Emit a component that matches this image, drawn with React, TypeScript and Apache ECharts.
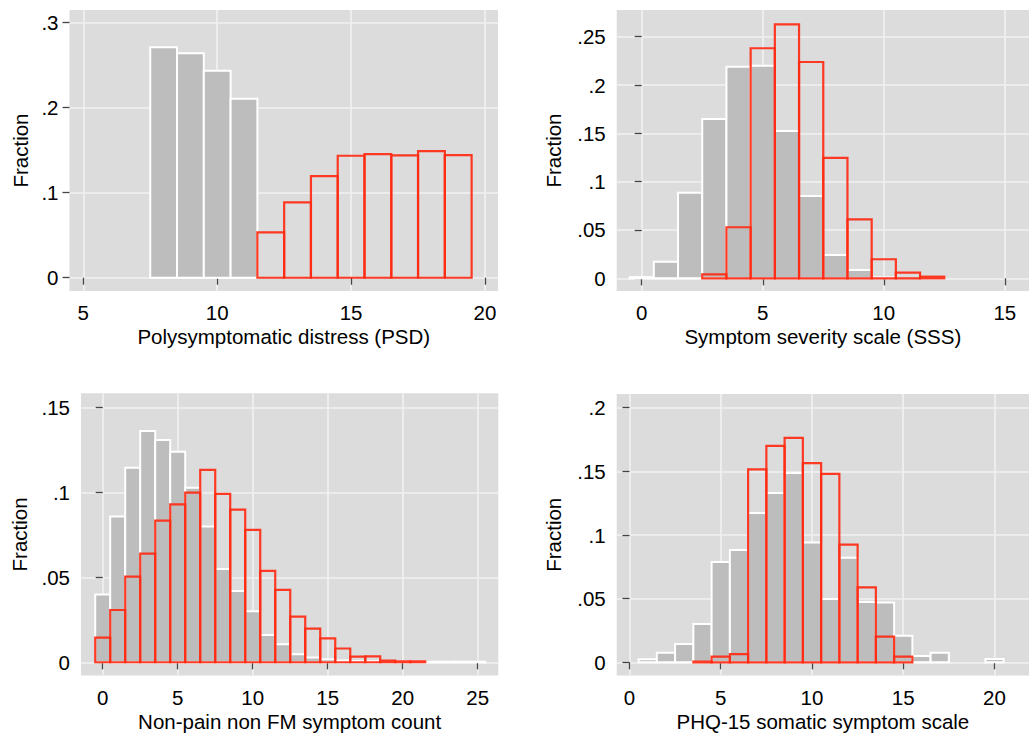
import React, { useEffect, useRef } from "react";
import * as echarts from "echarts";

// ---- Data (fractions) ----
// Panel 1: Polysymptomatic distress (PSD)
const psdGrayBins = [8, 9, 10, 11];
const psdGrayVals = [0.271, 0.264, 0.2435, 0.2106];
const psdRedBins = [12, 13, 14, 15, 16, 17, 18, 19];
const psdRedVals = [0.0533, 0.0886, 0.1196, 0.1435, 0.1455, 0.1439, 0.149, 0.1443];
const psdXTicks = [5, 10, 15, 20];
const psdYTicks = [0, 0.1, 0.2, 0.3];

// Panel 2: Symptom severity scale (SSS)
const sssGrayBins = [0, 1, 2, 3, 4, 5, 6, 7, 8, 9, 10];
const sssGrayVals = [0.0012, 0.0172, 0.0886, 0.1648, 0.219, 0.22, 0.1524, 0.0852, 0.0241, 0.0086, 0.001];
const sssRedBins = [3, 4, 5, 6, 7, 8, 9, 10, 11, 12];
const sssRedVals = [0.0041, 0.0528, 0.238, 0.2628, 0.2238, 0.1245, 0.061, 0.0197, 0.0059, 0.0017];
const sssXTicks = [0, 5, 10, 15];
const sssYTicks = [0, 0.05, 0.1, 0.15, 0.2, 0.25];

// Panel 3: Non-pain non FM symptom count
const npGrayBins = [0, 1, 2, 3, 4, 5, 6, 7, 8, 9, 10, 11, 12, 13, 14, 15, 16, 17, 18, 19, 20, 21, 22, 23, 24, 25];
const npGrayVals = [0.04, 0.0859, 0.1147, 0.1363, 0.131, 0.124, 0.1028, 0.08, 0.055, 0.042, 0.03, 0.016, 0.0106, 0.0047, 0.0028, 0.0018, 0.001, 0.0008, 0.0006, 0.0004, 0.0004, 0.0003, 0.0003, 0.0003, 0.0003, 0.0003];
const npRedBins = [0, 1, 2, 3, 4, 5, 6, 7, 8, 9, 10, 11, 12, 13, 14, 15, 16, 17, 18, 19, 20, 21];
const npRedVals = [0.0145, 0.0308, 0.0505, 0.064, 0.0835, 0.093, 0.1, 0.1134, 0.0992, 0.09, 0.078, 0.0538, 0.0426, 0.0269, 0.0198, 0.0141, 0.0081, 0.0033, 0.0035, 0.001, 0.0005, 0.0005];
const npXTicks = [0, 5, 10, 15, 20, 25];
const npYTicks = [0, 0.05, 0.1, 0.15];

// Panel 4: PHQ-15 somatic symptom scale
const phqGrayBins = [1, 2, 3, 4, 5, 6, 7, 8, 9, 10, 11, 12, 13, 14, 15, 16, 17, 20];
const phqGrayVals = [0.0024, 0.0076, 0.0144, 0.03, 0.0788, 0.0882, 0.1173, 0.133, 0.1487, 0.0942, 0.0497, 0.0822, 0.0474, 0.0469, 0.0209, 0.005, 0.0076, 0.0025];
const phqRedBins = [4, 5, 6, 7, 8, 9, 10, 11, 12, 13, 14, 15];
const phqRedVals = [0.0005, 0.0045, 0.0065, 0.1516, 0.17, 0.1764, 0.1565, 0.148, 0.0924, 0.0589, 0.0202, 0.0045];
const phqXTicks = [0, 5, 10, 15, 20];
const phqYTicks = [0, 0.05, 0.1, 0.15, 0.2];

const FONT = "Liberation Sans, Arial, Helvetica, sans-serif";
const FS = 20.5;
const TEXT = "#000000";
const PLOT_BG = "#dcdcdc";
const GRAY_FILL = "#bdbdbd";
const RED = "#ff2a12";

const fmtY = (v: number) => (v === 0 ? "0" : String(+v.toFixed(3)).replace(/^0\./, "."));

function histSeries(idx: number, bins: number[], vals: number[], red: boolean) {
  return {
    type: "custom",
    xAxisIndex: idx,
    yAxisIndex: idx,
    clip: true,
    z: red ? 4 : 3,
    data: bins.map((b, i) => [b, vals[i]]),
    renderItem: (_params: any, api: any) => {
      const x = api.value(0);
      const y = api.value(1);
      const p0 = api.coord([x - 0.5, 0]);
      const p1 = api.coord([x + 0.5, y]);
      return {
        type: "rect",
        shape: { x: p0[0], y: p1[1], width: p1[0] - p0[0], height: p0[1] - p1[1] },
        style: red
          ? { fill: "none", stroke: RED, lineWidth: 2.2, opacity: 0.92 }
          : { fill: GRAY_FILL, stroke: "#ffffff", lineWidth: 2 },
      };
    },
  };
}

function xAxis(idx: number, min: number, max: number, ticks: number[], name: string, nameGap: number) {
  return {
    type: "value",
    gridIndex: idx,
    min,
    max,
    name,
    nameLocation: "middle",
    nameGap,
    nameTextStyle: { fontFamily: FONT, fontSize: FS, color: TEXT },
    axisLine: { show: false },
    axisTick: { show: true, length: 7, customValues: ticks, lineStyle: { color: "#444", width: 1.3 } },
    axisLabel: { customValues: ticks, fontFamily: FONT, fontSize: FS, color: TEXT, margin: 11 },
    splitLine: { show: true, lineStyle: { color: "#f2f2f2", width: 1.6 } },
  };
}

function yAxis(idx: number, min: number, max: number, ticks: number[], nameGap: number) {
  return {
    type: "value",
    gridIndex: idx,
    min,
    max,
    name: "Fraction",
    nameLocation: "middle",
    nameGap,
    nameTextStyle: { fontFamily: FONT, fontSize: FS, color: TEXT },
    axisLine: { show: false },
    axisTick: { show: true, length: 7, customValues: ticks, lineStyle: { color: "#444", width: 1.3 } },
    axisLabel: { customValues: ticks, fontFamily: FONT, fontSize: FS, color: TEXT, margin: 11, formatter: fmtY },
    splitLine: { show: true, lineStyle: { color: "#f2f2f2", width: 1.6 } },
  };
}

export default function App() {
  const ref = useRef<HTMLDivElement>(null);
  useEffect(() => {
    if (!ref.current) return;
    const chart = echarts.init(ref.current, undefined, { renderer: "svg" });
    const gridBase = { show: true, backgroundColor: PLOT_BG, borderWidth: 0, containLabel: false };
    chart.setOption({
      animation: false,
      backgroundColor: "#ffffff",
      grid: [
        { ...gridBase, left: 69.5, top: 10, width: 428.5, height: 281 },
        { ...gridBase, left: 616.7, top: 10, width: 428.5, height: 281 },
        { ...gridBase, left: 81, top: 393.3, width: 417.3, height: 282.2 },
        { ...gridBase, left: 616.7, top: 394, width: 428.5, height: 281.5 },
      ],
      xAxis: [
        xAxis(0, 4.485, 20.485, psdXTicks, "Polysymptomatic distress (PSD)", 35),
        xAxis(1, -1.034, 16.0, sssXTicks, "Symptom severity scale (SSS)", 35),
        xAxis(2, -1.447, 26.37, npXTicks, "Non-pain non FM symptom count", 35),
        xAxis(3, -0.7, 21.89, phqXTicks, "PHQ-15 somatic symptom scale", 35),
      ],
      yAxis: [
        yAxis(0, -0.0156, 0.3149, psdYTicks, 39),
        yAxis(1, -0.01314, 0.2776, sssYTicks, 53),
        yAxis(2, -0.0078, 0.1585, npYTicks, 51),
        yAxis(3, -0.01037, 0.2108, phqYTicks, 53),
      ],
      series: [
        histSeries(0, psdGrayBins, psdGrayVals, false),
        histSeries(0, psdRedBins, psdRedVals, true),
        histSeries(1, sssGrayBins, sssGrayVals, false),
        histSeries(1, sssRedBins, sssRedVals, true),
        histSeries(2, npGrayBins, npGrayVals, false),
        histSeries(2, npRedBins, npRedVals, true),
        histSeries(3, phqGrayBins, phqGrayVals, false),
        histSeries(3, phqRedBins, phqRedVals, true),
      ],
    });
    return () => chart.dispose();
  }, []);
  return (
    <div
      ref={ref}
      style={{ position: "absolute", left: 0, top: 0, width: 1029, height: 735, background: "#fff" }}
    />
  );
}
